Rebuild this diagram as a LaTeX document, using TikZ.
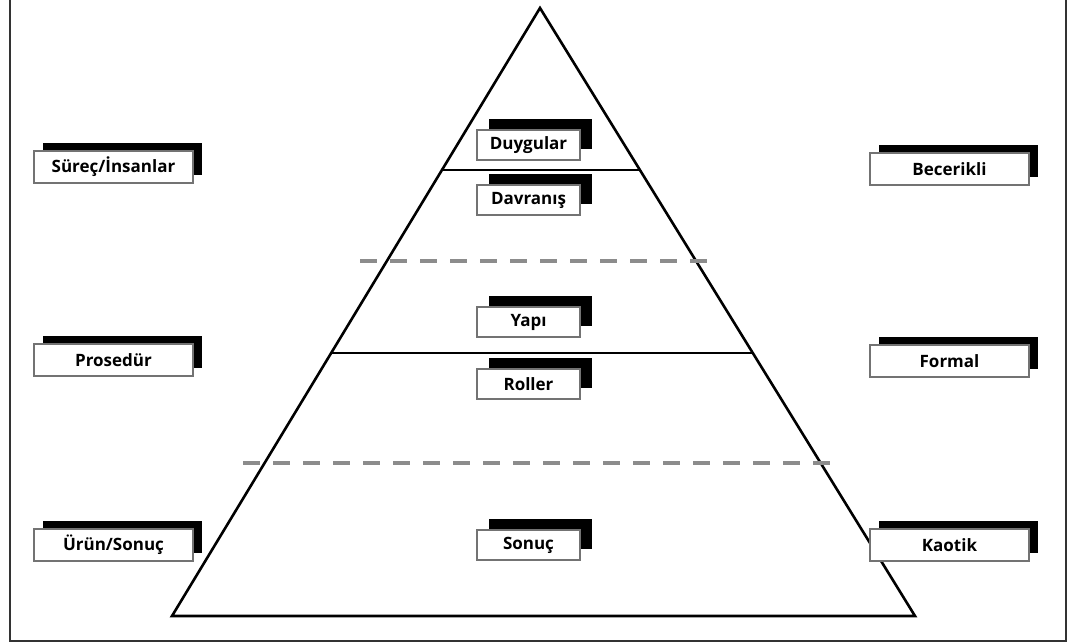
\documentclass[tikz,border=0pt]{standalone}
\usepackage{fontspec}
\setmainfont{Open Sans}
\usetikzlibrary{calc,shadows}

\begin{document}
\begin{tikzpicture}[x=1pt, y=-1pt,
  every node/.style={font=\bfseries\fontsize{17}{19}\selectfont},
  tag/.style={draw=black!55, fill=white, line width=1.5pt, inner sep=0pt},
  side/.style={tag, minimum width=159pt, minimum height=32pt,
    drop shadow={fill=black, opacity=1, shadow xshift=9pt, shadow yshift=8pt}},
  mid/.style={tag, minimum width=103pt, minimum height=30pt,
    drop shadow={fill=black, opacity=1, shadow xshift=12pt, shadow yshift=11pt}},
  edge/.style={line width=2.6pt, line join=miter},
  level/.style={line width=1.8pt},
  split/.style={draw=black!45, line width=3.2pt, dash pattern=on 17pt off 13pt}]
  \useasboundingbox (0,0) rectangle (1075,644);
  % frame, open at the top
  \draw[line width=2pt, black!80] (10,0) -- (10,641) -- (1066,641) -- (1066,0);
  % pyramid
  \coordinate (apex) at (540,8);
  \coordinate (bl) at (172,616);
  \coordinate (br) at (915,616);
  \draw[edge] (apex) -- (bl) -- (br) -- cycle;
  \draw[level] ($(apex)!0.2664!(bl)$) -- ($(apex)!0.2664!(br)$);
  \draw[level] ($(apex)!0.5674!(bl)$) -- ($(apex)!0.5674!(br)$);
  % dashed splits
  \coordinate (s1l) at (360,261); \coordinate (s1r) at (713,261);
  \coordinate (s2l) at (243,463); \coordinate (s2r) at (830,463);
  \draw[split] (s1l) -- (s1r);
  \draw[split] (s2l) -- (s2r);
  % labels left and right
  \foreach \n/\y/\t in {surec/167/{Süreç/İnsanlar}, prosedur/360/Prosedür, urun/545/{Ürün/Sonuç}}
    \node[side] (\n) at (113.5,\y) {\t};
  \foreach \n/\y/\t in {becerikli/169/Becerikli, formal/361/Formal, kaotik/545/Kaotik}
    \node[side] (\n) at (949.5,\y) {\t};
  % labels in the pyramid
  \foreach \n/\y/\t in {duygular/145/Duygular, davranis/200/Davranış, yapi/322/Yapı,
      roller/384/Roller, sonuc/545/Sonuç}
    \node[mid] (\n) at (528.5,\y) {\t};
\end{tikzpicture}
\end{document}
